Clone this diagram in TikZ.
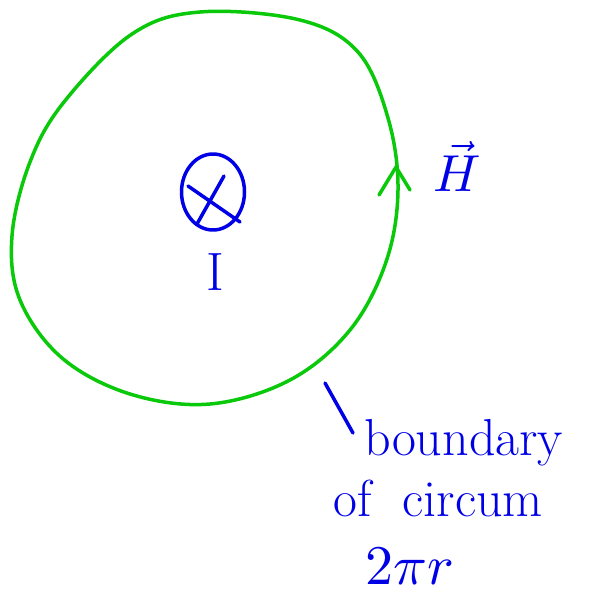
\documentclass[tikz,border=0pt]{standalone}
\usepackage{fontspec}
\usetikzlibrary{positioning,shapes.geometric}
\definecolor{loopgreen}{RGB}{10,200,10}
\definecolor{inkblue}{RGB}{0,0,230}

\begin{document}
\begin{tikzpicture}[x=1pt,y=-1pt,
  ink/.style={draw=inkblue, line width=3.5pt, line cap=round, line join=round},
  loopline/.style={draw=loopgreen, line width=3.5pt, line cap=round, line join=round},
  hand/.style={text=inkblue, inner sep=0pt}]
  \useasboundingbox (0,0) rectangle (590,596);
  % the closed loop round the current
  \draw[loopline] plot[smooth cycle, tension=0.6] coordinates {
    (132,34) (200,12) (300,20) (358,52) (388,118) (398,190) (386,262)
    (350,330) (290,380) (210,404) (130,394) (62,358) (20,300) (12,236)
    (30,162) (64,102)};
  % direction mark on the loop
  \draw[loopline] (379,195) -- (396,167) -- (410,190);
  % current into the page
  \node[ink, ellipse, minimum width=63pt, minimum height=76pt, inner sep=0pt]
    (cur) at (213,192) {};
  \draw[ink] (188,186) -- (240,222);
  \draw[ink] (224,176) -- (197,224);
  \node[hand, font=\fontsize{54}{54}\selectfont] (I) at (215,272) {I};
  \node[hand] (H) at (457,166) {\scalebox{5.2}{$\vec{H}$}};
  % notes
  \draw[ink] (325,383) -- (353,433);
  \node[hand, anchor=base west, font=\fontsize{52}{52}\selectfont]
    (bnd) at (364,455) {boundary};
  \node[hand, anchor=base west, font=\fontsize{52}{52}\selectfont]
    (circ) at (333,516) {of\hspace{0.6em}circum};
  \node[hand, anchor=base west] (len) at (365,584) {\scalebox{5.6}{$2\pi r$}};
\end{tikzpicture}
\end{document}
